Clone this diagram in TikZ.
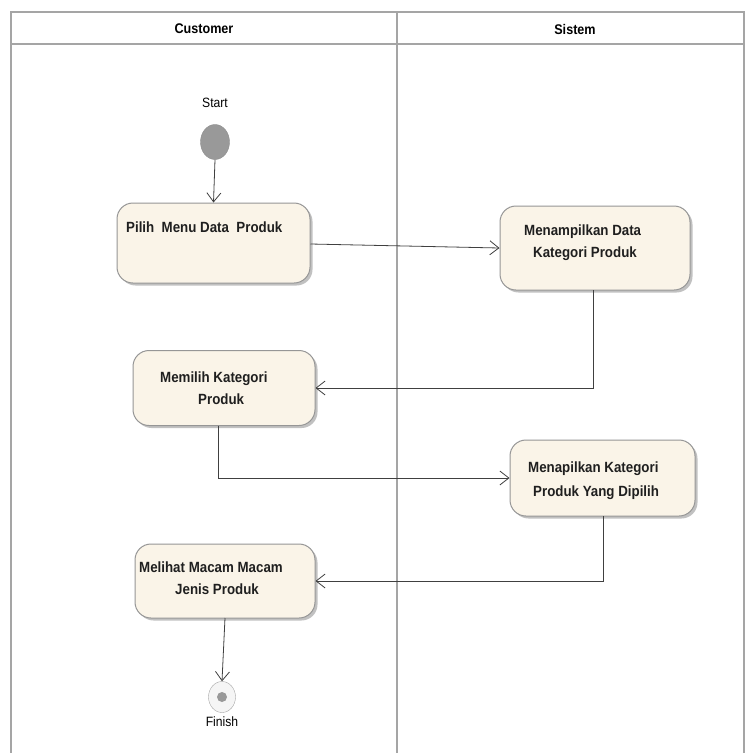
\documentclass[tikz,border=0pt]{standalone}
\usepackage{fontspec}
\setmainfont{Liberation Sans}
\newfontfamily\actfont[FakeStretch=0.9]{Liberation Sans}
\usetikzlibrary{arrows.meta,shadows,shapes.geometric}
\definecolor{actfill}{RGB}{250,244,232}
\definecolor{actdraw}{RGB}{150,150,150}
\definecolor{lane}{RGB}{165,165,165}
\tikzset{
  act/.style={draw=actdraw, line width=1pt, fill=actfill, rounded corners=16pt,
    drop shadow={shadow xshift=2.5pt, shadow yshift=-2.5pt, fill=black!40, opacity=0.6},
    inner sep=0pt},
  acttext/.style={font=\actfont\bfseries\fontsize{14.8}{22}\selectfont, align=left, inner sep=0pt, anchor=north west, text=black!88},
  flow/.style={draw=black!75, line width=0.8pt, -{Straight Barb[length=9pt,width=14pt]}},
  lbl/.style={font=\actfont\fontsize{13.5}{14}\selectfont, inner sep=0pt},
  hdr/.style={font=\actfont\bfseries\fontsize{14}{15}\selectfont, inner sep=0pt},
}
\begin{document}
\begin{tikzpicture}[x=1pt,y=-1pt]
\useasboundingbox (0,0) rectangle (747,753);
\fill[white] (0,0) rectangle (747,753);
% swimlanes
\draw[lane, line width=1.6pt] (11,753) -- (11,12) -- (744,12) -- (744,753);
\draw[lane, line width=1.6pt] (11,44) -- (744,44);
\draw[lane, line width=1.6pt] (397,12) -- (397,753);
\node[hdr] (hc) at (204,29) {Customer};
\node[hdr] (hs) at (575,29) {Sistem};
% start
\node[lbl] (startl) at (215,103) {Start};
\node[draw=black!45, fill=black!40, ellipse, minimum width=29pt, minimum height=35pt, inner sep=0pt] (start) at (215,142) {};
% activities
\node[act, minimum width=193pt, minimum height=80pt] (a1) at (213.5,243) {};
\node[act, minimum width=190pt, minimum height=84pt] (a2) at (595,248) {};
\node[act, minimum width=182pt, minimum height=75pt] (a3) at (224,388) {};
\node[act, minimum width=185pt, minimum height=76pt] (a4) at (602.5,478) {};
\node[act, minimum width=180pt, minimum height=74pt] (a5) at (225,581) {};
% activity texts
\node[acttext] (t1) at (126,222) {Pilih\ \ Menu Data\ \ Produk};
\node[acttext] (t2a) at (524,225) {Menampilkan Data};
\node[acttext] (t2b) at (533,247) {Kategori Produk};
\node[acttext] (t3a) at (160,372) {Memilih Kategori};
\node[acttext] (t3b) at (198,394) {Produk};
\node[acttext] (t4a) at (528,462) {Menapilkan Kategori};
\node[acttext] (t4b) at (533,486) {Produk Yang Dipilih};
\node[acttext] (t5a) at (139,562) {Melihat\ Macam\ Macam};
\node[acttext] (t5b) at (175,584) {Jenis\ Produk};
% finish
\node[draw=black!35, fill=black!4, ellipse, minimum width=27pt, minimum height=31pt, inner sep=0pt] (fin) at (222,697) {};
\fill[black!40] (fin.center) circle (5pt);
\node[lbl] (finl) at (222,722) {Finish};
% flows
\draw[flow] (start.south) -- (a1.north);
\draw[flow] (a1.east |- 0,244) -- (a2.west);
\draw[flow] (593,290) |- (a3.east);
\draw[flow] (218,425.5) |- (a4.west);
\draw[flow] (603,516) |- (a5.east);
\draw[flow] (225,618) -- (fin.north);
\end{tikzpicture}
\end{document}
